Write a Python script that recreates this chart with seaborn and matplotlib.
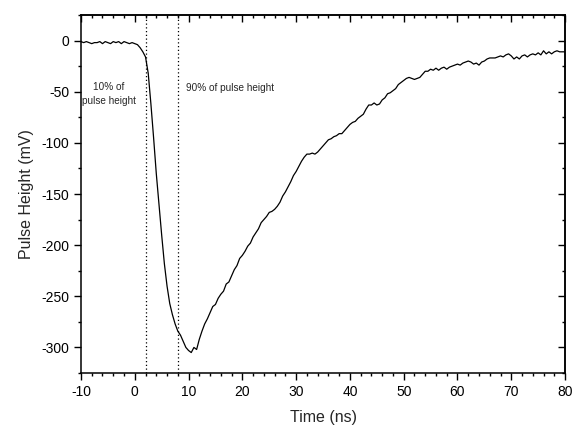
import numpy as np
import pandas as pd
import matplotlib
matplotlib.use('Agg')
import matplotlib.pyplot as plt
from matplotlib.ticker import MultipleLocator
import seaborn as sns

# pulse trace (time in ns, height in mV)
time_ns = np.arange(-10, 80.5, 0.5)
pulse_mv = [
    -1, -2, -1, -2, -3, -2, -2, -1, -3, -1,
    -2, -3, -1, -2, -1, -3, -1, -2, -3, -2,
    -3, -4, -7, -11, -16, -32, -62, -95, -130, -160,
    -190, -218, -240, -257, -268, -277, -284, -288, -294, -300,
    -303, -305, -300, -302, -292, -284, -277, -272, -266, -260,
    -258, -252, -248, -245, -238, -236, -230, -224, -220, -213,
    -210, -206, -201, -198, -192, -188, -184, -178, -175, -172,
    -168, -167, -165, -162, -158, -152, -148, -143, -138, -132,
    -128, -123, -118, -114, -111, -111, -110, -111, -109, -106,
    -103, -100, -97, -96, -94, -93, -91, -91, -88, -85,
    -82, -80, -79, -76, -74, -72, -67, -63, -63, -61,
    -63, -62, -58, -56, -52, -51, -49, -47, -43, -41,
    -39, -37, -36, -37, -38, -37, -36, -33, -30, -30,
    -28, -29, -27, -29, -27, -26, -28, -26, -25, -24,
    -23, -24, -22, -21, -20, -21, -23, -22, -24, -21,
    -20, -18, -17, -17, -17, -16, -15, -16, -14, -13,
    -15, -18, -16, -18, -15, -14, -16, -14, -13, -14,
    -12, -14, -10, -13, -11, -13, -11, -10, -11, -11,
    -11,
]
marker_times = [2.1, 8.0]

df = pd.DataFrame({'t': time_ns, 'v': pulse_mv})

sns.set_style('ticks')
plt.rcParams['font.family'] = ['Liberation Sans', 'DejaVu Sans']
plt.rcParams['axes.unicode_minus'] = False

fig = plt.figure(figsize=(5.76, 4.26), dpi=100)
ax = fig.add_axes([0.1406, 0.1244, 0.8404, 0.8404])

sns.lineplot(data=df, x='t', y='v', color='black', linewidth=0.9, ax=ax)

for mt in marker_times:
    ax.axvline(mt, color='black', linestyle=(0, (1, 2)), linewidth=0.9)

ax.text(-4.8, -52, '10% of\npulse height', fontsize=7.2, ha='center', va='center', linespacing=1.5)
ax.text(9.5, -46, '90% of pulse height', fontsize=7.2, ha='left', va='center')

ax.set_xlim(-10, 80)
ax.set_ylim(-325, 25)

# bottom/left ticks point out, top/right ticks point in (Origin style)
top = ax.secondary_xaxis('top')
right = ax.secondary_yaxis('right')
for a in (ax.xaxis, top.xaxis):
    a.set_major_locator(MultipleLocator(10))
    a.set_minor_locator(MultipleLocator(2))
for a in (ax.yaxis, right.yaxis):
    a.set_major_locator(MultipleLocator(50))
    a.set_minor_locator(MultipleLocator(25))

ax.tick_params(which='both', direction='out', top=False, right=False, colors='black',
               labelsize=10, width=1)
ax.tick_params(which='major', length=5)
ax.tick_params(which='minor', length=2.5)
top.tick_params(which='both', direction='in', labeltop=False, width=1, colors='black')
top.tick_params(which='major', length=5)
top.tick_params(which='minor', length=2.5)
right.tick_params(which='both', direction='in', labelright=False, width=1, colors='black')
right.tick_params(which='major', length=5)
right.tick_params(which='minor', length=2.5)

for a in (ax, top, right):
    for s in a.spines.values():
        s.set_linewidth(1.1)
        s.set_color('black')

ax.set_xlabel('Time (ns)', fontsize=11.5, labelpad=8)
ax.set_ylabel('Pulse Height (mV)', fontsize=11.5, labelpad=5)

fig.savefig('out.png', dpi=100)
